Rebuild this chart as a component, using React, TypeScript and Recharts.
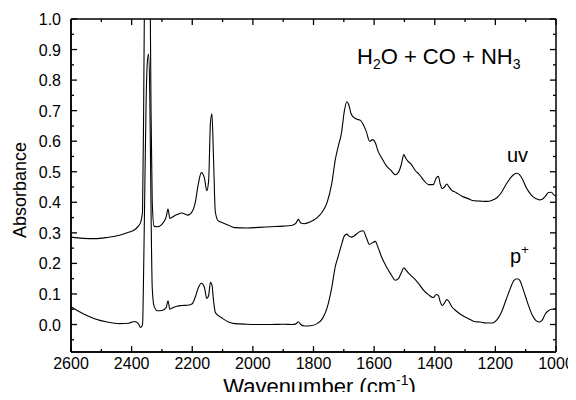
import React from 'react';
import { LineChart, Line, XAxis, YAxis, ReferenceLine } from 'recharts';

const wavenumber = [
  2600, 2560, 2520, 2480, 2440, 2410, 2390, 2378, 2370, 2364,
  2360, 2356, 2352, 2348, 2344, 2340, 2336, 2332, 2326, 2315,
  2300, 2286, 2280, 2274, 2265, 2250, 2235, 2215, 2200, 2190,
  2180, 2170, 2160, 2152, 2146, 2140, 2135, 2130, 2124, 2115,
  2100, 2080, 2060, 2020, 1980, 1940, 1900, 1870, 1858, 1850,
  1842, 1830, 1810, 1790, 1770, 1755, 1740, 1728, 1718, 1708,
  1698, 1690, 1684, 1676, 1666, 1656, 1645, 1636, 1626, 1615,
  1605, 1596, 1588, 1575, 1560, 1545, 1530, 1520, 1510, 1502,
  1496, 1488, 1478, 1465, 1450, 1435, 1420, 1405, 1395, 1388,
  1382, 1375, 1368, 1360, 1353, 1345, 1330, 1310, 1290, 1270,
  1250, 1230, 1210, 1195, 1180, 1165, 1150, 1138, 1128, 1120,
  1110, 1100, 1090, 1078, 1066, 1055, 1045, 1035, 1025, 1015,
  1008, 1000,
];

// upper trace (uv irradiated)
const uv = [
  0.286, 0.282, 0.281, 0.285, 0.292, 0.302, 0.31, 0.322, 0.335, 0.37,
  0.75, 1.3, 1.7, 1.8, 1.7, 1.25, 0.7, 0.4, 0.322, 0.32,
  0.328, 0.352, 0.378, 0.348, 0.352, 0.36, 0.365, 0.358, 0.37, 0.4,
  0.46, 0.497, 0.48, 0.438, 0.47, 0.66, 0.69, 0.55, 0.37, 0.34,
  0.333, 0.325, 0.317, 0.316, 0.318, 0.32, 0.322, 0.325, 0.332, 0.344,
  0.332, 0.33, 0.336, 0.348, 0.37, 0.4, 0.46, 0.54, 0.585, 0.625,
  0.7, 0.729, 0.72, 0.69, 0.677, 0.672, 0.668, 0.655, 0.632, 0.6,
  0.605, 0.595, 0.57, 0.545, 0.52, 0.505, 0.49, 0.497, 0.525, 0.556,
  0.545, 0.534, 0.525, 0.505, 0.49, 0.47, 0.458, 0.458, 0.48, 0.485,
  0.46, 0.445, 0.45, 0.46, 0.45, 0.44, 0.432, 0.42, 0.412, 0.405,
  0.404, 0.403, 0.407, 0.415, 0.432, 0.458, 0.48, 0.492, 0.495, 0.49,
  0.475, 0.452, 0.435, 0.42, 0.412, 0.408, 0.41, 0.42, 0.432, 0.433,
  0.425, 0.42,
];

// lower trace (p+ irradiated)
const pPlus = [
  0.058, 0.035, 0.018, 0.008, 0.003, 0.004, 0.01, 0.003, -0.01, 0.0,
  0.2, 0.48, 0.74, 0.86, 0.885, 0.75, 0.38, 0.12, 0.06, 0.045,
  0.046, 0.055, 0.078, 0.05, 0.055, 0.06, 0.062, 0.063, 0.068, 0.09,
  0.12, 0.135, 0.122, 0.085, 0.095, 0.138, 0.13, 0.08, 0.04, 0.03,
  0.02, 0.008, 0.003, 0.001, 0.0, 0.0, 0.001, 0.0, 0.002, 0.009,
  0.0, -0.005, -0.004, 0.002, 0.02, 0.055, 0.12, 0.19, 0.225, 0.26,
  0.29, 0.296, 0.29, 0.286, 0.29, 0.298, 0.305, 0.307, 0.285, 0.262,
  0.268, 0.272, 0.255, 0.22, 0.19, 0.165, 0.145, 0.15, 0.17, 0.186,
  0.18, 0.17, 0.16, 0.148, 0.13, 0.11, 0.097, 0.088, 0.098, 0.095,
  0.075, 0.062, 0.07, 0.082, 0.075, 0.06, 0.045, 0.03, 0.02, 0.01,
  0.008, 0.005, 0.005, 0.015, 0.04, 0.08, 0.12, 0.145, 0.15, 0.145,
  0.12, 0.09, 0.06, 0.03, 0.013, 0.008, 0.015, 0.035, 0.045, 0.05,
  0.05, 0.052,
];

const xMajor = [2600, 2400, 2200, 2000, 1800, 1600, 1400, 1200, 1000];
const xMinor = [2500, 2300, 2100, 1900, 1700, 1500, 1300, 1100];
const yMajor = [0, 0.1, 0.2, 0.3, 0.4, 0.5, 0.6, 0.7, 0.8, 0.9, 1.0];
const yMinor = [-0.05, 0.05, 0.15, 0.25, 0.35, 0.45, 0.55, 0.65, 0.75, 0.85, 0.95];
const xDomain = [1000, 2600];
const yDomain = [-0.09, 1.0];

const data = wavenumber.map((w, i) => ({ w, uv: uv[i], p: pPlus[i] }));

// 8px body margin on both sides: keep the page at exactly 576 x 400 (no scrollbar)
const W = 560;
const H = 384;
const M = { top: 11, right: 12, left: 0, bottom: 0 };
const Y_AXIS_W = 63;
const X_AXIS_H = 40;
const plotW = W - M.left - M.right - Y_AXIS_W;
const plotH = H - M.top - M.bottom - X_AXIS_H;
// data units per pixel, for tick-mark lengths drawn as reference segments
const xPerPx = (xDomain[1] - xDomain[0]) / plotW;
const yPerPx = (yDomain[1] - yDomain[0]) / plotH;

const FONT = '"Liberation Sans", Arial, Helvetica, sans-serif';
const BLACK = '#000';

function BottomTick({ x, y, payload }: any) {
  return (
    <text x={Number(x)} y={Number(y) + 17} textAnchor="middle" fontSize={16} fontFamily={FONT} fill={BLACK}>
      {payload.value}
    </text>
  );
}

function LeftTick({ x, y, payload }: any) {
  return (
    <text x={Number(x) - 10} y={Number(y) + 6} textAnchor="end" fontSize={16} fontFamily={FONT} fill={BLACK}>
      {payload.value.toFixed(1)}
    </text>
  );
}

const txt: React.CSSProperties = {
  position: 'absolute',
  fontFamily: FONT,
  color: BLACK,
  lineHeight: 1,
  whiteSpace: 'nowrap',
  pointerEvents: 'none',
};

export default function App() {
  const tick = (x1: number, y1: number, x2: number, y2: number, key: string) => (
    <ReferenceLine
      key={key}
      segment={[{ x: x1, y: y1 }, { x: x2, y: y2 }]}
      stroke={BLACK}
      strokeWidth={1.3}
      ifOverflow="visible"
    />
  );
  const dyMajor = 6 * yPerPx;
  const dyMinor = 3 * yPerPx;
  const dxMajor = 6 * xPerPx;
  const dxMinor = 3 * xPerPx;

  return (
    <div style={{ position: 'relative', width: W, height: H }}>
      <LineChart width={W} height={H} data={data} margin={M}>
        <XAxis
          dataKey="w"
          type="number"
          domain={xDomain}
          reversed
          ticks={xMajor}
          interval={0}
          stroke={BLACK}
          tickSize={-6}
          tickMargin={6}
          tickLine={{ stroke: BLACK, strokeWidth: 1.3 }}
          axisLine={{ stroke: BLACK, strokeWidth: 1.5 }}
          tick={(p: any) => <BottomTick {...p} />}
          height={X_AXIS_H}
        />
        <YAxis
          type="number"
          domain={yDomain}
          ticks={yMajor}
          interval={0}
          stroke={BLACK}
          tickSize={-6}
          tickMargin={6}
          tickLine={{ stroke: BLACK, strokeWidth: 1.3 }}
          axisLine={{ stroke: BLACK, strokeWidth: 1.5 }}
          tick={(p: any) => <LeftTick {...p} />}
          width={Y_AXIS_W}
          allowDataOverflow
        />
        {/* frame */}
        <ReferenceLine y={yDomain[1]} stroke={BLACK} strokeWidth={1.5} ifOverflow="visible" />
        <ReferenceLine y={yDomain[0]} stroke={BLACK} strokeWidth={1.5} ifOverflow="visible" />
        <ReferenceLine x={xDomain[1]} stroke={BLACK} strokeWidth={1.5} ifOverflow="visible" />
        <ReferenceLine x={xDomain[0]} stroke={BLACK} strokeWidth={1.5} ifOverflow="visible" />
        {/* minor ticks bottom/left, all ticks top/right */}
        {xMinor.map((v) => tick(v, yDomain[0], v, yDomain[0] + dyMinor, `bm${v}`))}
        {yMinor.map((v) => tick(xDomain[1], v, xDomain[1] - dxMinor, v, `lm${v}`))}
        {xMajor.map((v) => tick(v, yDomain[1], v, yDomain[1] - dyMajor, `tM${v}`))}
        {xMinor.map((v) => tick(v, yDomain[1], v, yDomain[1] - dyMinor, `tm${v}`))}
        {yMajor.map((v) => tick(xDomain[0], v, xDomain[0] + dxMajor, v, `rM${v}`))}
        {yMinor.map((v) => tick(xDomain[0], v, xDomain[0] + dxMinor, v, `rm${v}`))}
        <Line type="monotone" dataKey="uv" stroke={BLACK} strokeWidth={1.1} dot={false} isAnimationActive={false} />
        <Line type="monotone" dataKey="p" stroke={BLACK} strokeWidth={1.1} dot={false} isAnimationActive={false} />
      </LineChart>

      <div
        style={{
          ...txt,
          fontSize: 18,
          left: 11.5,
          top: 182,
          transform: 'translate(-50%, -50%) rotate(-90deg)',
        }}
      >
        Absorbance
      </div>
      <div style={{ ...txt, fontSize: 22, left: 311.5, top: 368, transform: 'translateX(-50%)' }}>
        Wavenumber (cm<span style={{ fontSize: 14, position: 'relative', top: -9 }}>-1</span>)
      </div>
      <div style={{ ...txt, fontSize: 22, left: 349, top: 38 }}>
        H<span style={{ fontSize: 14, position: 'relative', top: 5 }}>2</span>O + CO + NH
        <span style={{ fontSize: 14, position: 'relative', top: 5 }}>3</span>
      </div>
      <div style={{ ...txt, fontSize: 20, left: 509.5, top: 137, transform: 'translateX(-50%)' }}>uv</div>
      <div style={{ ...txt, fontSize: 20, left: 502, top: 238 }}>
        p<span style={{ fontSize: 13, position: 'relative', top: -9 }}>+</span>
      </div>
    </div>
  );
}
